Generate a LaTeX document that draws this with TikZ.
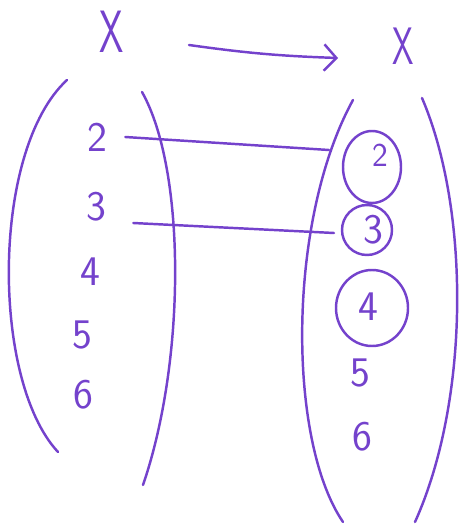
\documentclass[tikz,border=0pt]{standalone}
\usepackage{tikz}
\usetikzlibrary{arrows.meta,calc,positioning}
\definecolor{penpurple}{RGB}{116,66,204}

\begin{document}
\begin{tikzpicture}[x=0.02cm, y=-0.02cm,
      setname/.style={text=penpurple, font=\sffamily\fontsize{34}{34}\selectfont, inner sep=0pt},
      elem/.style={text=penpurple, font=\sffamily\fontsize{24}{24}\selectfont, inner sep=0pt},
      pen/.style={draw=penpurple, line width=1.4pt, line cap=round}
    ]
      \useasboundingbox (0,0) rectangle (460,527);

      \node[setname] (xl) at (112,32) {\scalebox{0.65}[1]{X}};
      \node[setname, font=\sffamily\fontsize{30}{30}\selectfont] (xr) at (403,46) {\scalebox{0.65}[1]{X}};
      \coordinate (fstart) at (189,45);
      \coordinate (fend) at (338,58);
      \draw[pen, -{Straight Barb[length=7pt, width=15pt, line width=1.4pt]}] (fstart) to[bend right=3] (fend);

      % domain
      \draw[pen] (67,80) .. controls (-9,150) and (-9,380) .. (58,452);
      \draw[pen] (142,92) .. controls (186,170) and (186,360) .. (143,485);
      \node[elem] (l2) at (97,137) {2};
      \node[elem] (l3) at (96,207) {3};
      \node[elem] (l4) at (90,272) {4};
      \node[elem] (l5) at (82,335) {5};
      \node[elem] (l6) at (83,395) {6};

      % codomain
      \draw[pen] (353,100) .. controls (287,220) and (287,440) .. (343,522);
      \draw[pen] (422,98) .. controls (470,210) and (470,400) .. (415,522);
      \node[elem, font=\sffamily\fontsize{19}{19}\selectfont] (r2) at (380,155) {2};
      \node[elem] (r3) at (373,230) {3};
      \node[elem] (r4) at (368,307) {4};
      \node[elem] (r5) at (360,373) {5};
      \node[elem] (r6) at (362,437) {6};
      \draw[pen] (372,167) ellipse [x radius=29, y radius=36];
      \draw[pen] (367,230) circle [radius=25];
      \draw[pen] (372,308) ellipse [x radius=36, y radius=38];

      \coordinate (e2) at (329,150);
      \coordinate (e3) at (334,233);
      \draw[pen] ($(l2.east)+(18,0)$) -- (e2);
      \draw[pen] ($(l3.east)+(27,16)$) -- (e3);
    \end{tikzpicture}
\end{document}
